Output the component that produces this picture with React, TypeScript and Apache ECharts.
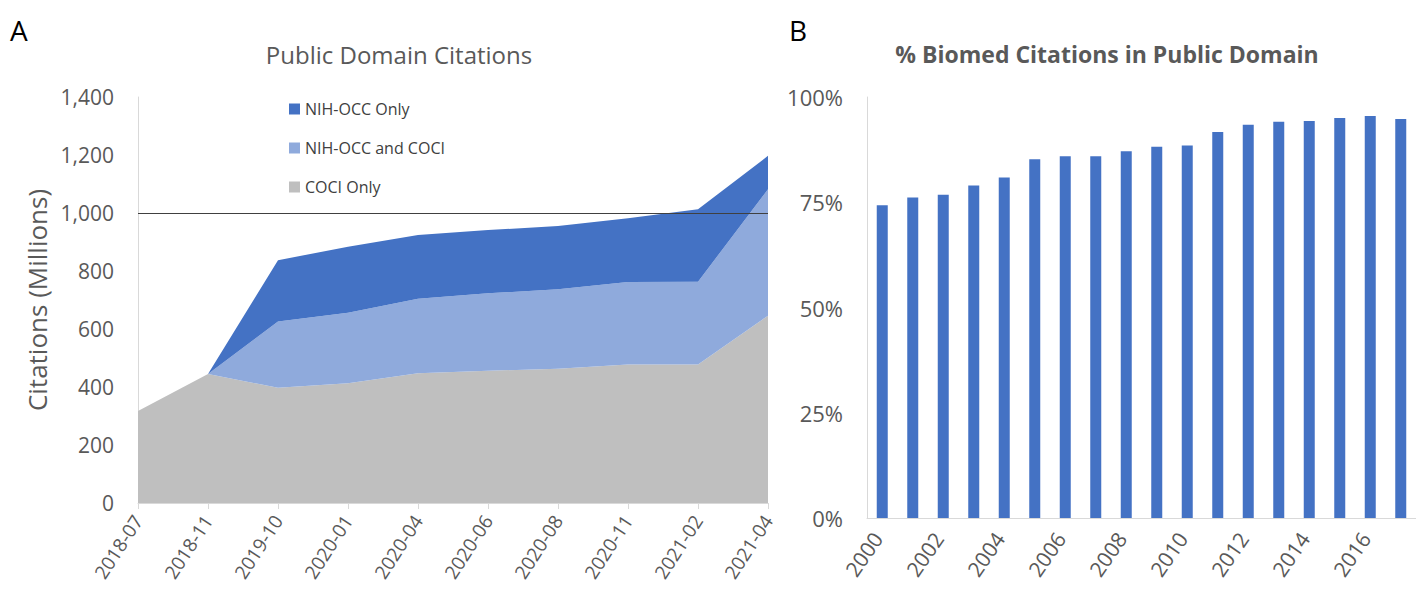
import React, { useEffect, useRef } from "react";
import * as echarts from "echarts";

const months = ["2018-07", "2018-11", "2019-10", "2020-01", "2020-04", "2020-06", "2020-08", "2020-11", "2021-02", "2021-04"];
const cociOnly = [317, 445, 397, 413, 447, 456, 463, 478, 478, 646];
const nihAndCoci = [0, 0, 229, 243, 257, 267, 274, 284, 285, 436];
const nihOnly = [0, 0, 211, 228, 220, 218, 218, 220, 250, 115];
const refLineValue = 1000;

const years = ["2000", "2001", "2002", "2003", "2004", "2005", "2006", "2007", "2008", "2009", "2010", "2011", "2012", "2013", "2014", "2015", "2016", "2017"];
const pctPublic = [74.3, 76.1, 76.8, 79.0, 80.9, 85.2, 85.9, 85.9, 87.1, 88.2, 88.5, 91.7, 93.4, 94.1, 94.3, 95.0, 95.5, 94.8];

const FONT = "'Open Sans', 'Noto Sans', sans-serif";
const GREY_TXT = "#595959";

export default function App() {
  const ref = useRef<HTMLDivElement>(null);
  useEffect(() => {
    document.body.style.margin = "0";
    document.body.style.overflow = "hidden";
    const chart = echarts.init(ref.current!, undefined, { renderer: "svg" });
    chart.setOption({
      animation: false,
      backgroundColor: "#ffffff",
      textStyle: { fontFamily: FONT },
      graphic: [
        { type: "text", x: 10, y: 30, style: { text: "A", fontSize: 28, fill: "#000", fontFamily: FONT, textVerticalAlign: "middle" } },
        { type: "text", x: 789, y: 30, style: { text: "B", fontSize: 28, fill: "#000", fontFamily: FONT, textVerticalAlign: "middle" } },
        { type: "text", x: 399, y: 54, style: { text: "Public Domain Citations", fontSize: 24, fill: GREY_TXT, fontFamily: FONT, textAlign: "center", textVerticalAlign: "middle" } },
        { type: "text", x: 1107, y: 54, style: { text: "% Biomed Citations in Public Domain", fontSize: 23, fontWeight: "bold", fill: GREY_TXT, fontFamily: FONT, textAlign: "center", textVerticalAlign: "middle" } },
      ],
      legend: {
        data: ["NIH-OCC Only", "NIH-OCC and COCI", "COCI Only"],
        orient: "vertical",
        left: 284,
        top: 96,
        itemWidth: 11,
        itemHeight: 11,
        itemGap: 23,
        icon: "rect",
        textStyle: { fontSize: 16, color: "#404040", fontFamily: FONT },
      },
      grid: [
        { left: 138, right: 648, top: 97, bottom: 90 },
        { left: 867, right: -9, top: 97, bottom: 75 },
      ],
      xAxis: [
        {
          gridIndex: 0,
          type: "category",
          data: months,
          boundaryGap: false,
          axisLine: { show: true, lineStyle: { color: "#d9d9d9", width: 1 } },
          axisTick: { show: true, length: 6, lineStyle: { color: "#d9d9d9" } },
          axisLabel: { rotate: 57, fontSize: 19, color: GREY_TXT, margin: 14, interval: 0, fontFamily: FONT },
        },
        {
          gridIndex: 1,
          type: "category",
          data: years,
          axisLine: { show: true, lineStyle: { color: "#d9d9d9", width: 1 } },
          axisTick: { show: false },
          axisLabel: { rotate: 55, fontSize: 21, color: GREY_TXT, margin: 10, interval: 1, fontFamily: FONT, padding: [0, 8, 0, 0] },
        },
      ],
      yAxis: [
        {
          gridIndex: 0,
          type: "value",
          min: 0,
          max: 1400,
          interval: 200,
          name: "Citations (Millions)",
          nameLocation: "middle",
          nameGap: 88,
          nameTextStyle: { fontSize: 26, color: GREY_TXT, fontFamily: FONT },
          axisLine: { show: true, lineStyle: { color: "#d9d9d9", width: 1 } },
          axisTick: { show: false },
          splitLine: { show: false },
          axisLabel: {
            fontSize: 21,
            color: GREY_TXT,
            margin: 24,
            fontFamily: FONT,
            formatter: (v: number) => v.toLocaleString("en-US"),
          },
        },
        {
          gridIndex: 1,
          type: "value",
          min: 0,
          max: 100,
          interval: 25,
          axisLine: { show: true, lineStyle: { color: "#d9d9d9", width: 1 } },
          axisTick: { show: false },
          splitLine: { show: false },
          axisLabel: { fontSize: 22, color: GREY_TXT, margin: 24, fontFamily: FONT, formatter: "{value}%" },
        },
      ],
      series: [
        {
          name: "COCI Only",
          type: "line",
          xAxisIndex: 0,
          yAxisIndex: 0,
          stack: "cit",
          data: cociOnly,
          symbol: "none",
          lineStyle: { width: 0 },
          itemStyle: { color: "#bfbfbf" },
          areaStyle: { color: "#bfbfbf", opacity: 1 },
          z: 2,
          markLine: {
            silent: true,
            symbol: "none",
            label: { show: false },
            lineStyle: { color: "#404040", width: 1, type: "solid" },
            data: [{ yAxis: refLineValue }],
          },
        },
        {
          name: "NIH-OCC and COCI",
          type: "line",
          xAxisIndex: 0,
          yAxisIndex: 0,
          stack: "cit",
          data: nihAndCoci,
          symbol: "none",
          lineStyle: { width: 0 },
          itemStyle: { color: "#8faadc" },
          areaStyle: { color: "#8faadc", opacity: 1 },
          z: 3,
        },
        {
          name: "NIH-OCC Only",
          type: "line",
          xAxisIndex: 0,
          yAxisIndex: 0,
          stack: "cit",
          data: nihOnly,
          symbol: "none",
          lineStyle: { width: 0 },
          itemStyle: { color: "#4472c4" },
          areaStyle: { color: "#4472c4", opacity: 1 },
          z: 4,
        },
        {
          name: "% Public",
          type: "bar",
          xAxisIndex: 1,
          yAxisIndex: 1,
          data: pctPublic,
          barWidth: 11,
          itemStyle: { color: "#4472c4" },
        },
      ],
    });
    return () => chart.dispose();
  }, []);
  return <div ref={ref} style={{ width: 1416, height: 593 }} />;
}
